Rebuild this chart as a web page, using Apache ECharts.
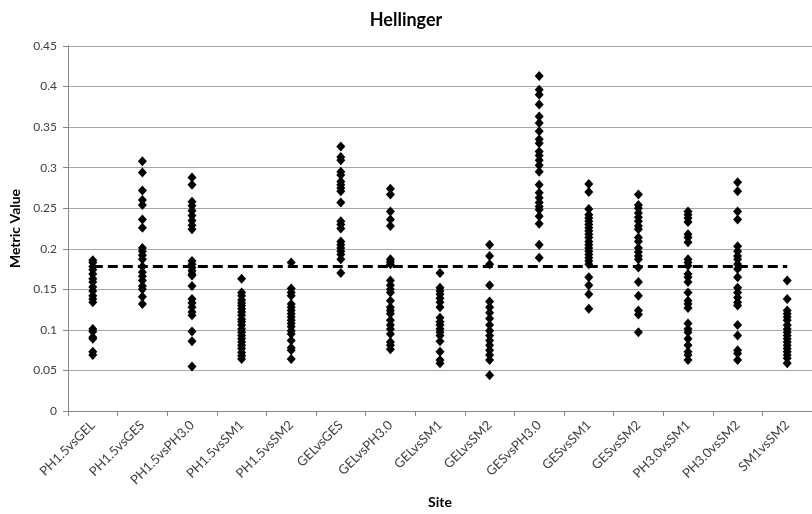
<!DOCTYPE html>
<html>
<head>
<meta charset="utf-8">
<script src="https://cdn.jsdelivr.net/npm/echarts@6/dist/echarts.min.js"></script>
<style>
  html, body { margin: 0; padding: 0; background: #fff; }
  #main { width: 812px; height: 514px; }
</style>
</head>
<body>
<div id="main"></div>
<script>
// sites along the x axis
const sites = ['PH1.5vsGEL', 'PH1.5vsGES', 'PH1.5vsPH3.0', 'PH1.5vsSM1', 'PH1.5vsSM2',
  'GELvsGES', 'GELvsPH3.0', 'GELvsSM1', 'GELvsSM2', 'GESvsPH3.0',
  'GESvsSM1', 'GESvsSM2', 'PH3.0vsSM1', 'PH3.0vsSM2', 'SM1vsSM2'];

// metric values per site
const ph15vsGEL = [0.186, 0.183, 0.178, 0.174, 0.169, 0.163, 0.159, 0.153, 0.148, 0.142, 0.138, 0.134, 0.101, 0.098, 0.091, 0.089, 0.073, 0.069];
const ph15vsGES = [0.308, 0.294, 0.272, 0.260, 0.254, 0.236, 0.226, 0.201, 0.197, 0.192, 0.187, 0.178, 0.171, 0.166, 0.161, 0.154, 0.150, 0.141, 0.132];
const ph15vsPH30 = [0.288, 0.279, 0.258, 0.253, 0.247, 0.241, 0.235, 0.229, 0.224, 0.185, 0.181, 0.177, 0.173, 0.169, 0.167, 0.154, 0.138, 0.133, 0.128, 0.122, 0.118, 0.098, 0.086, 0.055];
const ph15vsSM1 = [0.163, 0.146, 0.142, 0.137, 0.133, 0.130, 0.126, 0.122, 0.118, 0.113, 0.110, 0.106, 0.101, 0.097, 0.093, 0.089, 0.085, 0.081, 0.077, 0.072, 0.068, 0.064];
const ph15vsSM2 = [0.183, 0.151, 0.146, 0.142, 0.132, 0.128, 0.124, 0.120, 0.116, 0.112, 0.108, 0.104, 0.099, 0.095, 0.087, 0.078, 0.075, 0.064];
const gelVsGES = [0.326, 0.313, 0.309, 0.295, 0.291, 0.283, 0.279, 0.275, 0.271, 0.257, 0.234, 0.230, 0.225, 0.209, 0.205, 0.201, 0.197, 0.193, 0.187, 0.170];
const gelVsPH30 = [0.274, 0.267, 0.246, 0.236, 0.228, 0.187, 0.184, 0.181, 0.161, 0.155, 0.150, 0.146, 0.136, 0.128, 0.124, 0.120, 0.112, 0.106, 0.101, 0.095, 0.085, 0.081, 0.076];
const gelVsSM1 = [0.170, 0.152, 0.148, 0.144, 0.139, 0.134, 0.128, 0.115, 0.110, 0.106, 0.101, 0.097, 0.093, 0.086, 0.073, 0.063, 0.059];
const gelVsSM2 = [0.205, 0.191, 0.181, 0.155, 0.135, 0.128, 0.121, 0.114, 0.106, 0.099, 0.093, 0.087, 0.081, 0.075, 0.069, 0.063, 0.044];
const gesVsPH30 = [0.413, 0.396, 0.390, 0.378, 0.363, 0.355, 0.345, 0.335, 0.330, 0.320, 0.315, 0.309, 0.303, 0.295, 0.279, 0.269, 0.263, 0.257, 0.252, 0.248, 0.240, 0.231, 0.205, 0.189];
const gesVsSM1 = [0.280, 0.270, 0.249, 0.242, 0.238, 0.234, 0.230, 0.226, 0.222, 0.218, 0.214, 0.209, 0.205, 0.201, 0.197, 0.193, 0.189, 0.185, 0.181, 0.165, 0.155, 0.144, 0.126];
const gesVsSM2 = [0.267, 0.254, 0.250, 0.244, 0.239, 0.234, 0.228, 0.224, 0.214, 0.209, 0.201, 0.196, 0.191, 0.187, 0.177, 0.159, 0.142, 0.124, 0.119, 0.097];
const ph30vsSM1 = [0.246, 0.242, 0.238, 0.233, 0.218, 0.214, 0.208, 0.187, 0.183, 0.179, 0.169, 0.165, 0.159, 0.146, 0.136, 0.132, 0.127, 0.108, 0.101, 0.097, 0.089, 0.081, 0.073, 0.069, 0.063];
const ph30vsSM2 = [0.282, 0.271, 0.246, 0.236, 0.203, 0.197, 0.191, 0.187, 0.181, 0.175, 0.165, 0.152, 0.146, 0.140, 0.134, 0.130, 0.106, 0.093, 0.075, 0.071, 0.063];
const sm1vsSM2 = [0.161, 0.138, 0.124, 0.120, 0.116, 0.112, 0.106, 0.101, 0.097, 0.093, 0.089, 0.085, 0.081, 0.077, 0.073, 0.069, 0.065, 0.059];

const siteValues = [ph15vsGEL, ph15vsGES, ph15vsPH30, ph15vsSM1, ph15vsSM2,
  gelVsGES, gelVsPH30, gelVsSM1, gelVsSM2, gesVsPH30,
  gesVsSM1, gesVsSM2, ph30vsSM1, ph30vsSM2, sm1vsSM2];

// dashed reference level
const meanValue = 0.178;

const points = [];
siteValues.forEach(function (vals, i) {
  vals.forEach(function (v) { points.push([i, v]); });
});

const font = 'Lato, "Liberation Sans", sans-serif';

const chart = echarts.init(document.getElementById('main'), null, { renderer: 'canvas' });
chart.setOption({
  animation: false,
  backgroundColor: '#fff',
  title: {
    text: 'Hellinger',
    left: 'center',
    top: 6,
    textStyle: { fontFamily: font, fontSize: 18, fontWeight: 'bold', color: '#000' }
  },
  grid: { left: 68, right: -9, top: 46, bottom: 101 },
  xAxis: {
    type: 'category',
    data: sites,
    boundaryGap: true,
    name: 'Site',
    nameLocation: 'middle',
    nameGap: 84,
    nameTextStyle: { fontFamily: font, fontSize: 14, fontWeight: 'bold', color: '#000' },
    axisLine: { lineStyle: { color: '#868686', width: 1 } },
    axisTick: { show: true, length: 5, alignWithLabel: false, lineStyle: { color: '#868686' } },
    axisLabel: { rotate: 45, interval: 0, margin: 12, fontFamily: font, fontSize: 13, color: '#404040' },
    splitLine: { show: false }
  },
  yAxis: {
    type: 'value',
    min: 0,
    max: 0.45,
    interval: 0.05,
    name: 'Metric Value',
    nameLocation: 'middle',
    nameGap: 42,
    nameTextStyle: { fontFamily: font, fontSize: 14, fontWeight: 'bold', color: '#000' },
    axisLine: { show: true, lineStyle: { color: '#868686', width: 1 } },
    axisTick: { show: true, length: 5, lineStyle: { color: '#868686' } },
    axisLabel: { margin: 11, fontFamily: font, fontSize: 12, color: '#404040' },
    splitLine: { show: true, lineStyle: { color: '#a6a6a6', width: 1 } }
  },
  series: [
    {
      type: 'scatter',
      data: points,
      symbol: 'diamond',
      symbolSize: [9, 10],
      itemStyle: { color: '#000', opacity: 1 },
      markLine: {
        silent: true,
        symbol: 'none',
        label: { show: false },
        lineStyle: { color: '#000', width: 3, type: [10, 5], opacity: 1 },
        data: [[{ coord: [sites[0], meanValue] }, { coord: [sites[sites.length - 1], meanValue] }]]
      }
    }
  ]
});
</script>
</body>
</html>
